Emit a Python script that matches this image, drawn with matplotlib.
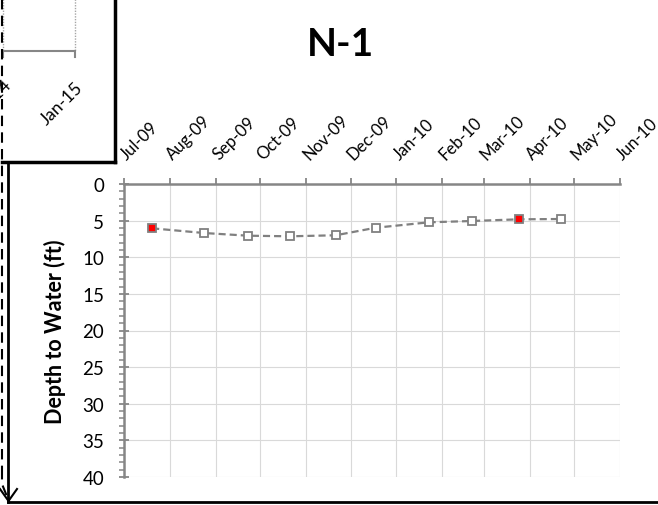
import matplotlib
matplotlib.use("Agg")
import matplotlib.pyplot as plt
import matplotlib.dates as mdates
import matplotlib.transforms as mtransforms
from matplotlib.ticker import MultipleLocator
import datetime as dt

plt.rcParams['font.family'] = ['Lato', 'DejaVu Sans']

# Well N-1 depth-to-water measurements
dates = ["2009-07-20", "2009-08-24", "2009-09-23", "2009-10-21", "2009-11-21",
         "2009-12-18", "2010-01-23", "2010-02-21", "2010-03-25", "2010-04-22"]
depth_ft = [6.05, 6.69, 7.06, 7.14, 7.0, 5.97, 5.23, 5.05, 4.82, 4.78]
highlighted = [True, False, False, False, False, False, False, False, True, False]

title = "N-1"
y_label = "Depth to Water (ft)"
x_start, x_end = "2009-07-01", "2010-06-01"
y_min, y_max = 0, 40

W, H = 658, 506
fig = plt.figure(figsize=(W / 100, H / 100), dpi=100)

# pixel-space overlay for the surrounding frame elements
ov = fig.add_axes([0, 0, 1, 1], zorder=0)
ov.set_xlim(0, W)
ov.set_ylim(H, 0)
ov.axis('off')

# neighbouring chart fragment (upper-left)
ov.plot([3, 75], [52, 52], color='#868686', lw=1.5, solid_capstyle='butt')
for gx in (3, 75):
    ov.plot([gx, gx], [0, 52], color='#a6a6a6', lw=1.0, ls=(0, (1, 1)))
    ov.plot([gx, gx], [52, 58], color='#868686', lw=1.5)
ov.text(80, 85, "Jan-15", rotation=45, rotation_mode='anchor',
        ha='right', va='center', fontsize=12.5, color='black')
ov.text(9, 83, "Jul-14", rotation=45, rotation_mode='anchor',
        ha='right', va='center', fontsize=12.5, color='black')
ov.plot([115, 115], [0, 163], color='black', lw=2.5, solid_capstyle='projecting')
ov.plot([2, 115], [163, 163], color='black', lw=2.5, solid_capstyle='projecting')

# connector lines and arrow
ov.plot([2, 2], [0, 470], color='black', lw=1.5, ls=(0, (5, 3)))
ov.plot([2, 2, 8], [470, 485, 500], color='black', lw=1.5, ls=(0, (5, 3)))
ov.plot([8, 8], [163, 503], color='black', lw=2.0)
ov.plot([8, W], [503, 503], color='black', lw=2.0)
ov.plot([0, 8.5, 17], [490, 502, 490], color='black', lw=1.5)

# main chart axes
left, right, top, bottom = 124, 620, 185, 478
ax = fig.add_axes([left / W, (H - bottom) / H, (right - left) / W, (bottom - top) / H],
                  zorder=1)
ax.patch.set_alpha(0)

xd = [dt.datetime.strptime(d, "%Y-%m-%d") for d in dates]
xs = dt.datetime.strptime(x_start, "%Y-%m-%d")
xe = dt.datetime.strptime(x_end, "%Y-%m-%d")

ax.plot(xd, depth_ft, color='#808080', lw=1.6, ls=(0, (3.2, 1.8)), zorder=3)
for x, y, h in zip(xd, depth_ft, highlighted):
    ax.plot([x], [y], marker='s', ms=5.5, mfc='#ff0000' if h else 'white',
            mec='#808080', mew=1.3, zorder=4)

ax.set_xlim(mdates.date2num(xs), mdates.date2num(xe))
ax.set_ylim(y_max, y_min)

ax.xaxis.set_major_locator(mdates.MonthLocator())
ax.xaxis.set_major_formatter(mdates.DateFormatter("%b-%y"))
ax.xaxis.tick_top()
ax.yaxis.set_major_locator(MultipleLocator(5))
ax.yaxis.set_minor_locator(MultipleLocator(1))

ax.grid(True, which='major', color='#d9d9d9', lw=0.8)
ax.set_axisbelow(True)

for s in ('right', 'bottom'):
    ax.spines[s].set_visible(False)
for s in ('left', 'top'):
    ax.spines[s].set_color('#868686')
    ax.spines[s].set_linewidth(1.8)

ax.tick_params(axis='x', which='major', direction='out', length=4.5, width=1.3,
               color='#868686', pad=11, labelsize=12, labelcolor='black')
ax.tick_params(axis='y', which='major', direction='inout', length=6.5, width=1.3,
               color='#868686', pad=11, labelsize=13.5, labelcolor='black')
ax.tick_params(axis='y', which='minor', direction='out', length=3.5, width=1.1,
               color='#868686')

shift = mtransforms.ScaledTranslation(-6 / 100, 0, fig.dpi_scale_trans)
for lab in ax.get_xticklabels():
    lab.set_rotation(45)
    lab.set_ha('left')
    lab.set_va('bottom')
    lab.set_transform(lab.get_transform() + shift)

ax.set_ylabel(y_label, fontsize=15.5, fontweight='bold', labelpad=12)
fig.text(340 / W, 1 - 45 / H, title, fontsize=28, fontweight='bold',
         ha='center', va='center')

fig.savefig("out.png", dpi=100)
